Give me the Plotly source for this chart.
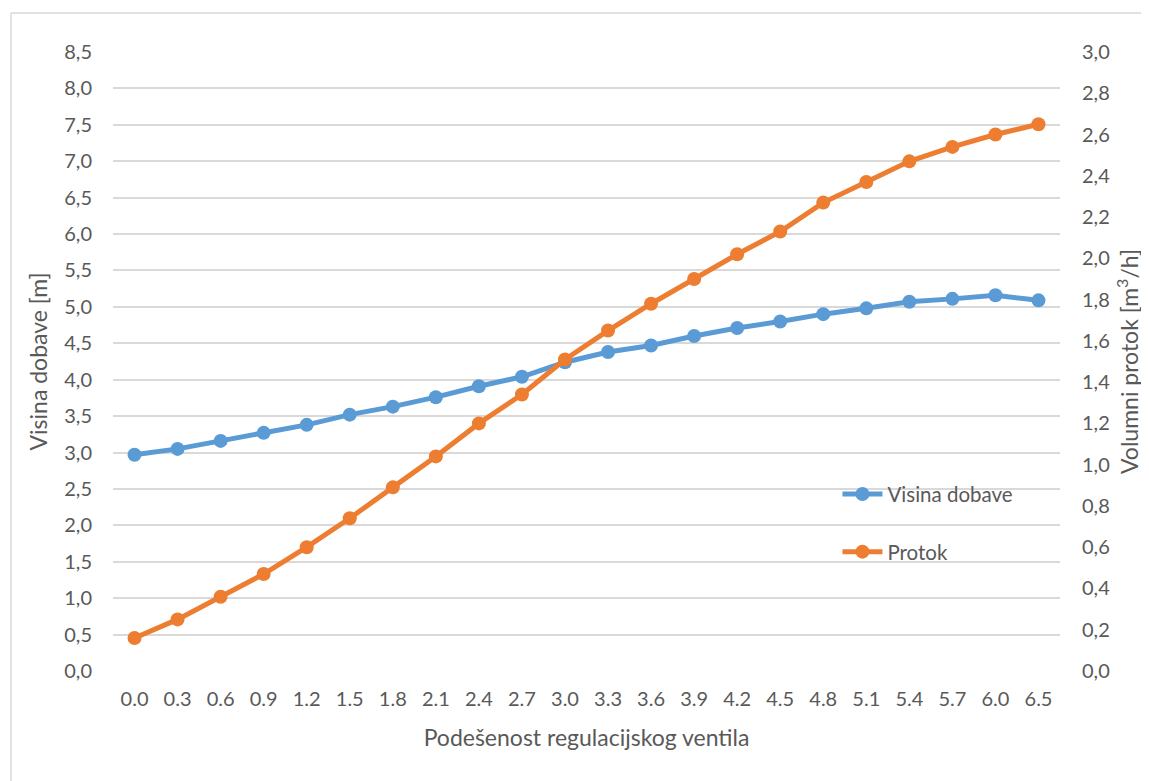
import plotly.graph_objects as go

categories = ["0.0", "0.3", "0.6", "0.9", "1.2", "1.5", "1.8", "2.1", "2.4", "2.7", "3.0",
              "3.3", "3.6", "3.9", "4.2", "4.5", "4.8", "5.1", "5.4", "5.7", "6.0", "6.5"]
visina_dobave = [2.97, 3.05, 3.16, 3.27, 3.38, 3.52, 3.63, 3.76, 3.91, 4.04, 4.24,
                 4.38, 4.47, 4.60, 4.71, 4.80, 4.90, 4.98, 5.07, 5.11, 5.16, 5.09]
protok = [0.16, 0.25, 0.36, 0.47, 0.60, 0.74, 0.89, 1.04, 1.20, 1.34, 1.51,
          1.65, 1.78, 1.90, 2.02, 2.13, 2.27, 2.37, 2.47, 2.54, 2.60, 2.65]

left_ticks = [i * 0.5 for i in range(18)]
right_ticks = [i * 0.2 for i in range(16)]

BLUE = "#5B9BD5"
ORANGE = "#ED7D31"
GRID = "#D9D9D9"
TXT = "#595959"
FONT = "Lato, 'Liberation Sans', sans-serif"

fig = go.Figure()
fig.add_trace(go.Scatter(
    x=categories, y=visina_dobave, name="Visina dobave", mode="lines+markers",
    line=dict(color=BLUE, width=5), marker=dict(size=14, color=BLUE),
    yaxis="y", legendgroup="a"))
fig.add_trace(go.Scatter(
    x=categories, y=protok, name="Protok", mode="lines+markers",
    line=dict(color=ORANGE, width=5), marker=dict(size=14, color=ORANGE),
    yaxis="y2", legendgroup="b"))

border = dict(color="#D9D9D9", width=1.5)

fig.update_layout(
    width=1141, height=773,
    margin=dict(l=105, r=89, t=44, b=110),
    paper_bgcolor="white", plot_bgcolor="white",
    separators=", ",
    font=dict(family=FONT, size=20, color=TXT),
    showlegend=True,
    legend=dict(x=0.765, y=0.318, xanchor="left", yanchor="top",
                bgcolor="rgba(0,0,0,0)", tracegroupgap=28,
                font=dict(size=20.5, color=TXT), itemwidth=40),
    xaxis=dict(type="category", range=[-0.5, 21.5], showgrid=False,
               showline=False, zeroline=False, ticks="", ticklabelstandoff=14,
               title=dict(text="Podešenost regulacijskog ventila", font=dict(size=23, color=TXT), standoff=20),
               tickfont=dict(size=20, color=TXT)),
    yaxis=dict(range=[0, 8.5], tickvals=left_ticks, tickformat=".1f",
               showgrid=True, gridcolor=GRID, gridwidth=1.5, zeroline=False,
               showline=False, ticks="", ticklabelstandoff=20,
               title=dict(text="Visina dobave [m]", font=dict(size=23, color=TXT), standoff=10),
               tickfont=dict(size=20, color=TXT)),
    yaxis2=dict(range=[0, 3.0], tickvals=right_ticks, tickformat=".1f",
                overlaying="y", side="right", showgrid=False, zeroline=False,
                showline=False, ticks="", ticklabelstandoff=21,
                title=dict(text="Volumni protok [m<sup>3</sup>/h]", font=dict(size=23, color=TXT), standoff=12),
                tickfont=dict(size=20, color=TXT)),
    shapes=[
        dict(type="line", xref="paper", yref="paper",
             x0=-0.1077, x1=1.2, y0=1.063, y1=1.063, line=border, layer="below"),
        dict(type="line", xref="paper", yref="paper",
             x0=-0.1077, x1=-0.1077, y0=-0.3, y1=1.063, line=border, layer="below"),
    ],
)

fig.write_html("out.html")
